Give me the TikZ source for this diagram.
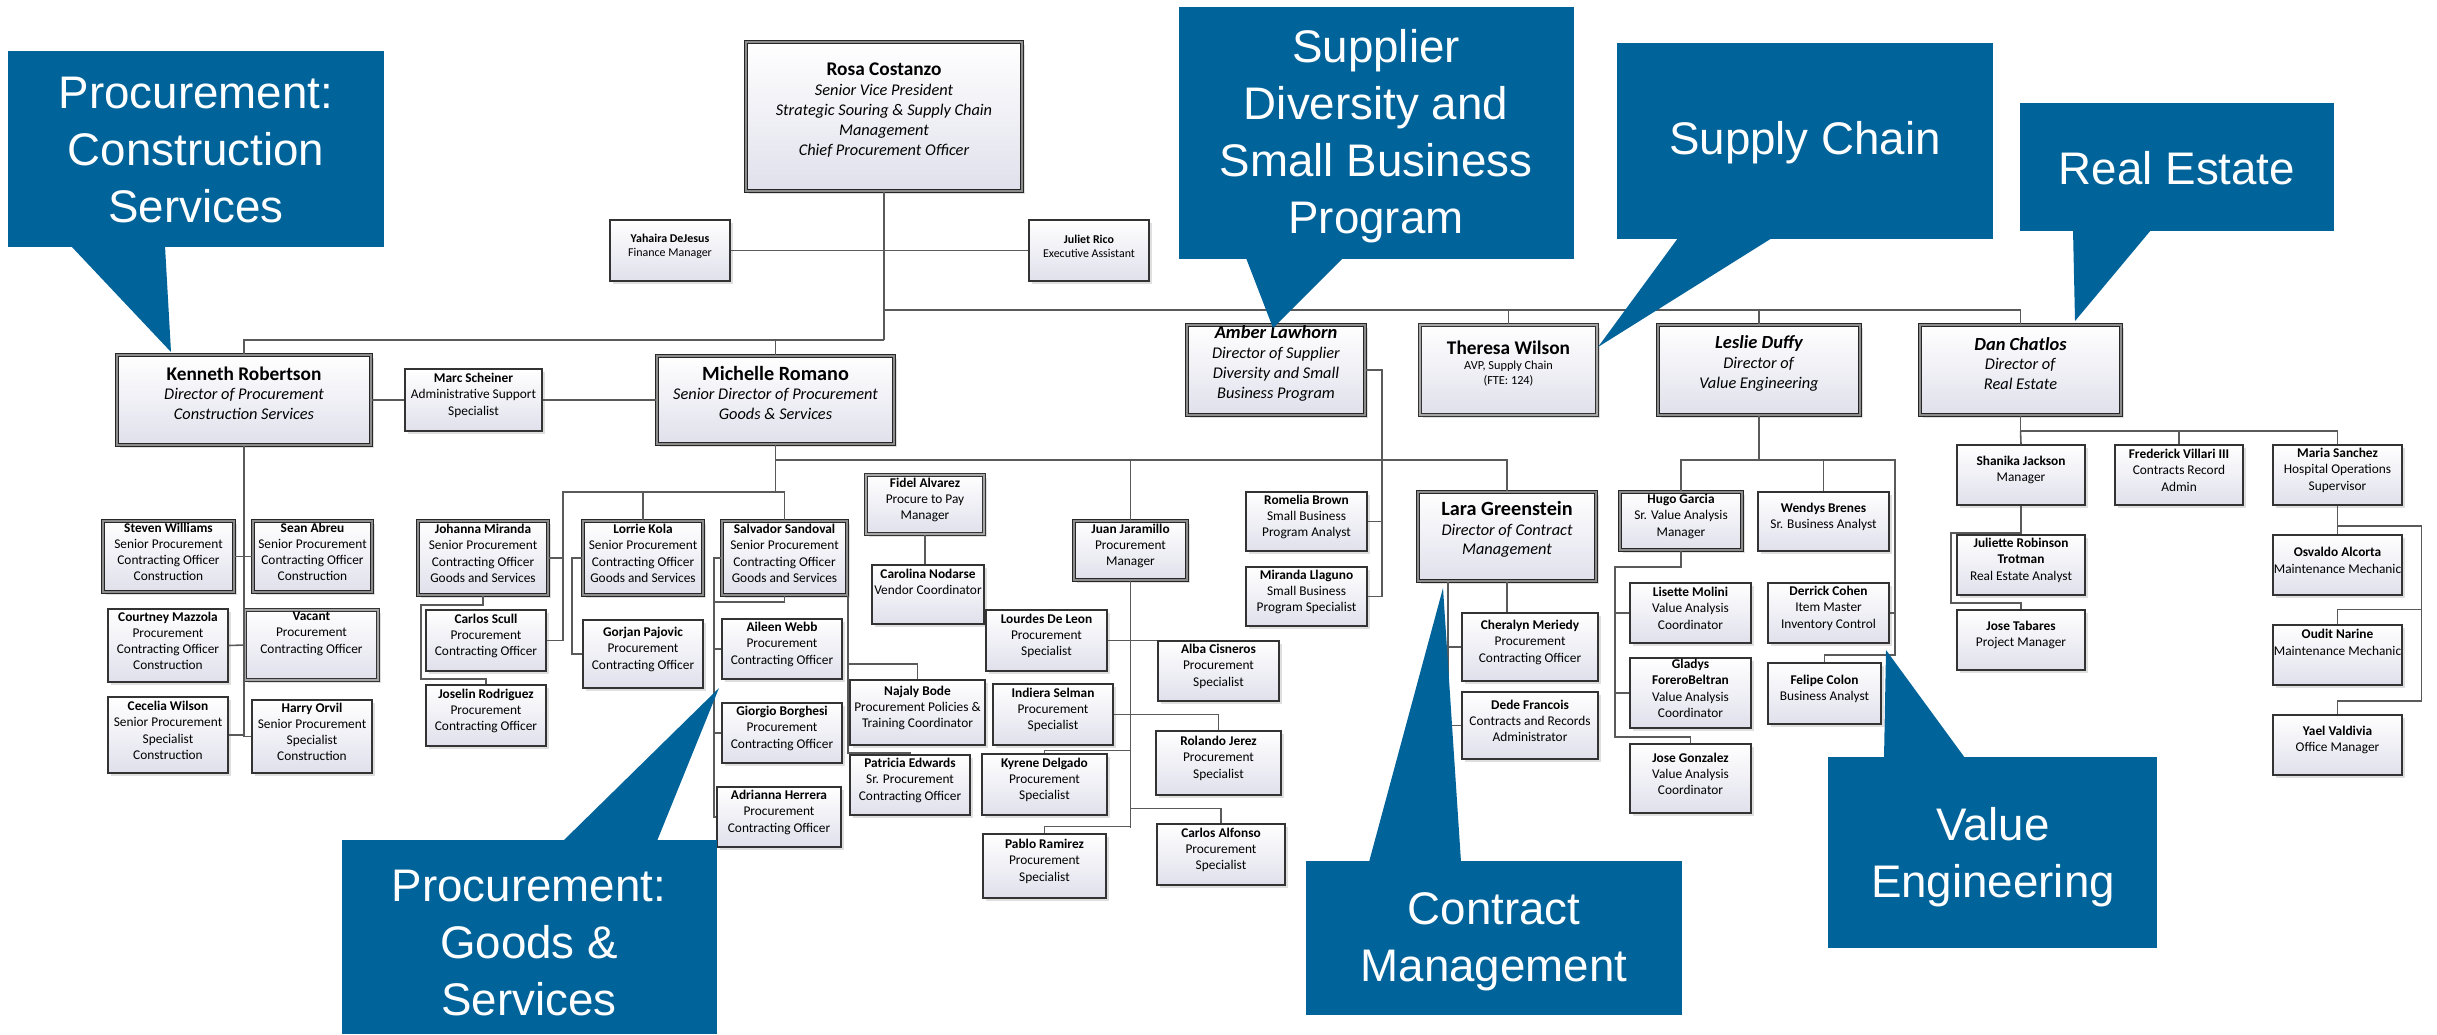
\documentclass[tikz,border=0pt]{standalone}
\usepackage{fontspec}
\setmainfont{Carlito}
\newfontfamily\callfont{Liberation Sans}
\usetikzlibrary{fit}
\usetikzlibrary{shadows}

\definecolor{calloutblue}{RGB}{0,99,154}
\definecolor{boxlav}{RGB}{224,224,236}
\definecolor{linegray}{RGB}{90,90,90}

\tikzset{
  pbox/.style={draw=black!80, line width=0.8pt, top color=white, bottom color=boxlav, inner sep=0pt, align=center,
    font=\fontsize{7.6}{9.2}\selectfont, drop shadow={shadow xshift=0.5mm, shadow yshift=-0.5mm, opacity=0.25}},
  psmall/.style={pbox, font=\fontsize{6.8}{8.4}\selectfont},
  pmid/.style={pbox, line width=0.7pt, double=black!35, double distance=0.7pt},
  pthick/.style={pbox, draw=black!85, line width=0.9pt, double=black!45, double distance=0.9pt},
  pbig/.style={pthick, font=\fontsize{9.3}{11.3}\selectfont},
  link/.style={draw=linegray, line width=0.9pt},
  callout/.style={fill=calloutblue},
  calltext/.style={text=white, align=center, font=\callfont\fontsize{26}{32.5}\selectfont},
}

\begin{document}
\begin{tikzpicture}[x=0.2mm, y=-0.2mm]
\useasboundingbox (0,0) rectangle (2437,1034);

% top level
\node[pbig, fit={(746,42) (1022,191)}] (rosa) {{\fontsize{11}{13}\selectfont\bfseries Rosa Costanzo}\\\textit{Senior Vice President}\\\textit{Strategic Souring \& Supply Chain}\\\textit{Management}\\\textit{Chief Procurement Officer}};
\node[psmall, fit={(610,220) (730,281)}] (yahaira) {\textbf{Yahaira DeJesus}\\Finance Manager};
\node[psmall, fit={(1029,220) (1149,281)}] (juliet) {\textbf{Juliet Rico}\\Executive Assistant};

% directors
\node[pbig, fit={(117,355) (371,445)}] (kenneth) {{\fontsize{11}{13}\selectfont\bfseries Kenneth Robertson}\\\textit{Director of Procurement}\\\textit{Construction Services}};
\node[pbox, fit={(405,369) (542,431)}] (marc) {\textbf{Marc Scheiner}\\Administrative Support\\Specialist};
\node[pbig, fit={(657,356) (894,444)}] (michelle) {{\fontsize{11.5}{13.5}\selectfont\bfseries Michelle Romano}\\\textit{Senior Director of Procurement}\\\textit{Goods \& Services}};
\node[pbig, fit={(1187,325) (1365,415)}] (amber) {{\fontsize{10.5}{12.5}\selectfont\bfseries\itshape Amber Lawhorn}\\\textit{Director of Supplier}\\\textit{Diversity and Small}\\\textit{Business Program}};
\node[pmid, font=\fontsize{7}{8.6}\selectfont, fit={(1420,325) (1597,415)}] (theresa) {{\fontsize{11}{14}\selectfont\bfseries Theresa Wilson}\\AVP, Supply Chain\\(FTE: 124)};
\node[pbig, fit={(1658,325) (1860,415)}] (leslie) {{\fontsize{10.5}{12.5}\selectfont\bfseries\itshape Leslie Duffy}\\\textit{Director of}\\\textit{Value Engineering}};
\node[pbig, fit={(1920,325) (2121,415)}] (dan) {{\fontsize{10.5}{12.5}\selectfont\bfseries\itshape Dan Chatlos}\\\textit{Director of}\\\textit{Real Estate}};

% construction services
\node[pthick, fit={(103,521) (234,592)}] (steven) {\textbf{Steven Williams}\\Senior Procurement\\Contracting Officer\\Construction};
\node[pthick, fit={(253,521) (372,592)}] (sean) {\textbf{Sean Abreu}\\Senior Procurement\\Contracting Officer\\Construction};
\node[pbox, fit={(108,609) (228,682)}] (courtney) {\textbf{Courtney Mazzola}\\Procurement\\Contracting Officer\\Construction};
\node[pmid, fit={(245,610) (378,680)}] (vacant) {\textbf{Vacant}\\Procurement\\Contracting Officer\\~};
\node[pbox, fit={(108,697) (228,773)}] (cecelia) {\textbf{Cecelia Wilson}\\Senior Procurement\\Specialist\\Construction};
\node[pbox, fit={(252,700) (372,773)}] (harry) {\textbf{Harry Orvil}\\Senior Procurement\\Specialist\\Construction};

% goods and services
\node[pthick, fit={(418,521) (548,595)}] (johanna) {\textbf{Johanna Miranda}\\Senior Procurement\\Contracting Officer\\Goods and Services};
\node[pbox, fit={(426,610) (546,671)}] (carlosS) {\textbf{Carlos Scull}\\Procurement\\Contracting Officer};
\node[pbox, fit={(426,685) (546,746)}] (joselin) {\textbf{Joselin Rodriguez}\\Procurement\\Contracting Officer};
\node[pthick, fit={(583,521) (703,595)}] (lorrie) {\textbf{Lorrie Kola}\\Senior Procurement\\Contracting Officer\\Goods and Services};
\node[pbox, fit={(583,620) (703,688)}] (gorjan) {\textbf{Gorjan Pajovic}\\Procurement\\Contracting Officer};
\node[pthick, fit={(722,521) (847,595)}] (salvador) {\textbf{Salvador Sandoval}\\Senior Procurement\\Contracting Officer\\Goods and Services};
\node[pbox, fit={(722,619) (842,679)}] (aileen) {\textbf{Aileen Webb}\\Procurement\\Contracting Officer};
\node[pbox, fit={(722,703) (842,763)}] (giorgio) {\textbf{Giorgio Borghesi}\\Procurement\\Contracting Officer};
\node[pbox, fit={(717,787) (841,847)}] (adrianna) {\textbf{Adrianna Herrera}\\Procurement\\Contracting Officer};
\node[pmid, fit={(866,475) (984,534)}] (fidel) {\textbf{Fidel Alvarez}\\Procure to Pay\\Manager};
\node[pbox, fit={(872,565) (984,624)}] (carolina) {\textbf{Carolina Nodarse}\\Vendor Coordinator\\~};
\node[pbox, fit={(850,680) (985,745)}] (najaly) {\textbf{Najaly Bode}\\Procurement Policies \&\\Training Coordinator};
\node[pbox, fit={(850,755) (970,815)}] (patricia) {\textbf{Patricia Edwards}\\Sr. Procurement\\Contracting Officer};
\node[pthick, fit={(1074,521) (1187,580)}] (juan) {\textbf{Juan Jaramillo}\\Procurement\\Manager};
\node[pbox, fit={(986,610) (1107,671)}] (lourdes) {\textbf{Lourdes De Leon}\\Procurement\\Specialist};
\node[pbox, fit={(1158,641) (1279,701)}] (alba) {\textbf{Alba Cisneros}\\Procurement\\Specialist};
\node[pbox, fit={(993,684) (1113,745)}] (indiera) {\textbf{Indiera Selman}\\Procurement\\Specialist};
\node[pbox, fit={(1156,731) (1281,795)}] (rolando) {\textbf{Rolando Jerez}\\Procurement\\Specialist};
\node[pbox, fit={(982,754) (1107,815)}] (kyrene) {\textbf{Kyrene Delgado}\\Procurement\\Specialist};
\node[pbox, fit={(983,834) (1106,898)}] (pablo) {\textbf{Pablo Ramirez}\\Procurement\\Specialist};
\node[pbox, fit={(1157,824) (1285,885)}] (carlosA) {\textbf{Carlos Alfonso}\\Procurement\\Specialist};

% supplier diversity
\node[pbox, fit={(1246,492) (1367,551)}] (romelia) {\textbf{Romelia Brown}\\Small Business\\Program Analyst};
\node[pbox, fit={(1246,567) (1367,626)}] (miranda) {\textbf{Miranda Llaguno}\\Small Business\\Program Specialist};

% contract management
\node[pbig, fit={(1418,492) (1596,581)}] (lara) {{\fontsize{11.5}{13.5}\selectfont\bfseries Lara Greenstein}\\\textit{Director of Contract}\\\textit{Management}};
\node[pbox, fit={(1462,613) (1598,681)}] (cheralyn) {\textbf{Cheralyn Meriedy}\\Procurement\\Contracting Officer};
\node[pbox, fit={(1462,692) (1598,759)}] (dede) {\textbf{Dede Francois}\\Contracts and Records\\Administrator};

% value engineering
\node[pthick, fit={(1620,492) (1742,550)}] (hugo) {\textbf{Hugo Garcia}\\Sr. Value Analysis\\Manager};
\node[pbox, fit={(1758,492) (1889,551)}] (wendys) {\textbf{Wendys Brenes}\\Sr. Business Analyst};
\node[pbox, fit={(1630,583) (1751,643)}] (lisette) {\textbf{Lisette Molini}\\Value Analysis\\Coordinator};
\node[pbox, fit={(1630,658) (1751,728)}] (gladys) {\textbf{Gladys}\\\textbf{ForeroBeltran}\\Value Analysis\\Coordinator};
\node[pbox, fit={(1630,744) (1751,813)}] (joseG) {\textbf{Jose Gonzalez}\\Value Analysis\\Coordinator};
\node[pbox, fit={(1768,583) (1889,643)}] (derrick) {\textbf{Derrick Cohen}\\Item Master\\Inventory Control};
\node[pbox, fit={(1768,663) (1881,724)}] (felipe) {\textbf{Felipe Colon}\\Business Analyst};

% real estate
\node[pbox, fit={(1957,445) (2085,505)}] (shanika) {\textbf{Shanika Jackson}\\Manager};
\node[pbox, fit={(2115,445) (2243,505)}] (frederick) {\textbf{Frederick Villari III}\\Contracts Record\\Admin};
\node[pbox, fit={(2273,445) (2402,505)}] (maria) {\textbf{Maria Sanchez}\\Hospital Operations\\Supervisor};
\node[pbox, fit={(1957,535) (2085,595)}] (juliette) {\textbf{Juliette Robinson}\\\textbf{Trotman}\\Real Estate Analyst};
\node[pbox, fit={(1957,610) (2085,670)}] (joseT) {\textbf{Jose Tabares}\\Project Manager};
\node[pbox, fit={(2273,535) (2402,595)}] (osvaldo) {\textbf{Osvaldo Alcorta}\\Maintenance Mechanic};
\node[pbox, fit={(2273,625) (2402,685)}] (oudit) {\textbf{Oudit Narine}\\Maintenance Mechanic\\~};
\node[pbox, fit={(2273,715) (2402,775)}] (yael) {\textbf{Yael Valdivia}\\Office Manager};

% lines from the top
\coordinate (busK) at (884,340);
\coordinate (busR) at (884,310);
\draw[link] (rosa.south) -- (busK);
\draw[link] (yahaira.east) -- (juliet.west);
\draw[link] (busK) -| (kenneth.north);
\draw[link] (busK) -| (michelle.north);
\draw[link] (busR) -| (dan.north);
\draw[link] (amber.north) -- (amber.north |- busR);
\draw[link] (theresa.north) -- (theresa.north |- busR);
\draw[link] (leslie.north) -- (leslie.north |- busR);
\draw[link] (kenneth.east) -- (marc.west);
\draw[link] (marc.east) -- (michelle.west);

% construction services
\draw[link] (kenneth.south) -- (kenneth.south |- harry.west);
\draw[link] (steven.east) -- (sean.west);
\draw[link] (courtney.east) -- (vacant.west);
\draw[link] (cecelia.east) -- (cecelia.east -| kenneth.south);
\draw[link] (harry.west) -- (harry.west -| kenneth.south);

% goods and services
\coordinate (busM) at (776,460);
\coordinate (gsSpine) at (563,492);
\coordinate (sSpine) at (714,602);
\draw[link] (michelle.south) -- (michelle.south |- gsSpine);
\draw[link] (michelle.south |- busM) -| (lara.north);
\draw[link] (juan.north) -- (juan.north |- busM);
\draw[link] (salvador.north) |- (gsSpine) |- (carlosS.east);
\draw[link] (lorrie.north) -- (lorrie.north |- gsSpine);
\draw[link] (johanna.east) -- (johanna.east -| gsSpine);
\draw[link] (johanna.south) -- ++(0,9) -- ++(-62,0) -- ++(0,74) -| (joselin.north);
\draw[link] (lorrie.west) -- ++(-10,0) |- (gorjan.west);
\draw[link] (salvador.west) -| (sSpine);
\draw[link] (salvador.south) |- (sSpine) |- (adrianna.west);
\draw[link] (aileen.west) -- (aileen.west -| sSpine);
\draw[link] (giorgio.west) -- (giorgio.west -| sSpine);
\draw[link] (salvador.south east) -- ++(0,68) -| (najaly.north);
\draw[link] (salvador.south east) -- ++(0,157) -| (patricia.north);
\draw[link] (fidel.south) -- (fidel.south |- carolina.north);

% procurement manager
\draw[link] (juan.south) -- ++(0,247);
\draw[link] (lourdes.east) -- (lourdes.east -| alba.west);
\draw[link] (indiera.east) -| (rolando.north);
\draw[link] (kyrene.north) -- ++(0,-3) -| (juan.south);
\draw[link] (pablo.north) -- ++(0,-7) -| (juan.south);
\draw[link] (carlosA.north) -- ++(0,-15) -| (juan.south);

% supplier diversity
\draw[link] (amber.east) -- ++(16,0) coordinate (aSpine) |- (miranda.east);
\draw[link] (romelia.east) -- (romelia.east -| aSpine);

% contract management
\draw[link] (lara.south) -- (lara.south |- cheralyn.north);
\draw[link] (lara.south west) ++(31,0) |- (dede.west);
\draw[link] (cheralyn.west) -- ++(-13,0);

% value engineering
\coordinate (vRight) at (1895,460);
\draw[link] (leslie.south) -- (leslie.south |- vRight);
\draw[link] (hugo.north) |- (vRight) -- ++(0,195) -| (felipe.north);
\draw[link] (wendys.north) -- (wendys.north |- vRight);
\draw[link] (derrick.east) -- (derrick.east -| vRight);
\draw[link] (hugo.south) -- ++(0,16) -- ++(-66,0) coordinate (hSpine) -- ++(0,170) -| (joseG.north);
\draw[link] (lisette.west) -- (lisette.west -| hSpine);
\draw[link] (gladys.west) -- (gladys.west -| hSpine);

% real estate
\draw[link] (dan.south) -- ++(0,15) coordinate (rBus) -| (maria.north);
\draw[link] (rBus) -- (shanika.north);
\draw[link] (frederick.north) -- (frederick.north |- rBus);
\draw[link] (shanika.south) -- (juliette.north);
\draw[link] (shanika.south) -- ++(0,27) -| ++(-70,70) -| (joseT.north);
\draw[link] (maria.south) -- (osvaldo.north);
\draw[link] (maria.south) -- ++(0,20) -| ++(84,175) -| (yael.north);
\draw[link] (oudit.north) -- ++(0,-15) -- ++(84,0);

% callouts
\fill[callout] (8,51) rectangle (384,247);
\fill[callout] (71,246) -- (165,246) -- (171,352) -- cycle;
\node[calltext] (cConstr) at (196,150) {Procurement:\\Construction\\Services};

\fill[callout] (1179,7) rectangle (1574,259);
\fill[callout] (1246,258) -- (1343,258) -- (1273,328) -- cycle;
\node[calltext] (cSupplier) at (1376,136) {Supplier\\Diversity and\\Small Business\\Program};

\fill[callout] (1617,43) rectangle (1993,239);
\fill[callout] (1678,238) -- (1772,238) -- (1598,347) -- cycle;
\node[calltext] (cChain) at (1805,143) {Supply Chain};

\fill[callout] (2020,103) rectangle (2334,231);
\fill[callout] (2073,230) -- (2151,230) -- (2075,321) -- cycle;
\node[calltext] (cEstate) at (2177,168) {Real Estate};

\fill[callout] (342,840) rectangle (717,1034);
\fill[callout] (563,841) -- (657,841) -- (719,688) -- cycle;
\node[calltext] (cGoods) at (529,943) {Procurement:\\Goods \&\\Services};

\fill[callout] (1306,861) rectangle (1682,1015);
\fill[callout] (1369,862) -- (1461,862) -- (1443,588) -- cycle;
\node[calltext] (cContract) at (1494,942) {Contract\\Management};

\fill[callout] (1828,757) rectangle (2157,948);
\fill[callout] (1884,758) -- (1965,758) -- (1886,650) -- cycle;
\node[calltext] (cValue) at (1993,857) {Value\\Engineering};

\end{tikzpicture}
\end{document}
